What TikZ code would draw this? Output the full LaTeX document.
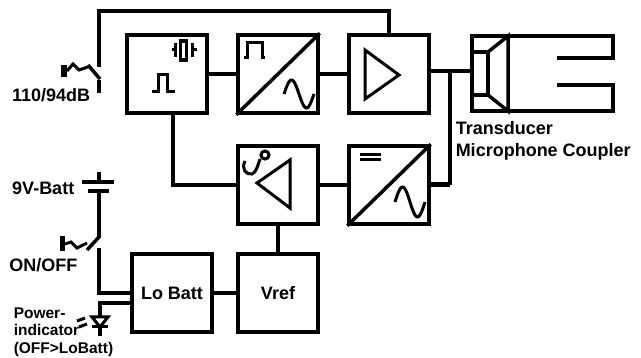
\documentclass[tikz,border=0pt]{standalone}
\usepackage{fontspec}
\setmainfont{Liberation Sans}
\usetikzlibrary{positioning, calc}

\begin{document}
\begin{tikzpicture}[
    x=1pt, y=-1pt,
    line width=3.5pt,
    block/.style={
        rectangle,
        draw,
        line width=3.5pt,
        minimum width=80pt,
        minimum height=78pt,
        align=center,
        font=\bfseries\fontsize{18}{22}\selectfont
    },
    symbol/.style={
        line width=3pt
    },
    lbl/.style={
        inner sep=0pt,
        align=left,
        font=\bfseries\fontsize{18}{22}\selectfont
    },
    smalllbl/.style={
        inner sep=0pt,
        align=left,
        font=\bfseries\fontsize{15.5}{17.5}\selectfont
    }
]

\useasboundingbox (0,0) rectangle (641,358);

% Define column and row positions (pixels, y downwards)
\def\colA{167}
\def\colB{278}
\def\colC{389}
\def\rowA{74}
\def\rowB{185}
\def\rowC{293}

% Blocks
\node[block] (osc) at (\colA,\rowA) {};
\node[block] (dac) at (\colB,\rowA) {};
\node[block] (amp) at (\colC,\rowA) {};
\node[block] (micamp) at (\colB,\rowB) {};
\node[block] (adc) at (\colC,\rowB) {};
\node[block] (lobatt) at (172,\rowC) {Lo Batt};
\node[block] (vref) at (\colB,\rowC) {Vref};

% Oscillator: crystal and pulse
\begin{scope}[shift={(osc.center)}]
    \draw[symbol] (5,-24) -- (8,-24) (8,-31) -- (8,-17) (25,-31) -- (25,-17) (25,-24) -- (30,-24);
    \draw[line width=3.5pt] (13.5,-33) rectangle (19.5,-14);
    \draw[symbol] (-15,18) -- (-9,18) -- (-9,1) -- (0,1) -- (0,18) -- (8,18);
\end{scope}

% Pulse to sine converter
\draw (dac.south west) -- (dac.north east);
\begin{scope}[shift={(dac.center)}]
    \draw[symbol] (-34,-16) -- (-31,-16) -- (-31,-31) -- (-16,-31) -- (-16,-16) -- (-13,-16);
    \draw[symbol] plot[domain=0:360, samples=37] ({6+\x/12}, {20-14*sin(\x)});
\end{scope}

% Output amplifier
\begin{scope}[shift={(amp.center)}]
    \draw[symbol] (-24,-24) -- (10,1) -- (-24,25) -- cycle;
\end{scope}

% Microphone amplifier
\begin{scope}[shift={(micamp.center)}]
    \draw[symbol] (-21,-2) -- (12,-25) -- (12,23) -- cycle;
    \draw[symbol] (-33,-24) .. controls (-37,-16) and (-32,-10) .. (-26,-11)
        .. controls (-22,-12) and (-20,-20) .. (-18,-26);
    \draw[symbol] (-13,-30) circle[radius=4];
\end{scope}

% DC to sine converter
\draw (adc.south west) -- (adc.north east);
\begin{scope}[shift={(adc.center)}]
    \draw[symbol] (-29,-30) -- (-8,-30) (-29,-25) -- (-8,-25);
    \draw[symbol] plot[domain=0:360, samples=37] ({6+\x/12}, {17-15*sin(\x)});
\end{scope}

% Transducer and coupler
\draw (557,58) -- (613,58) -- (613,36) -- (472,36) -- (472,111) -- (613,111) -- (613,85) -- (557,85);
\draw (472,52) -- (488,52) -- (488,95) -- (472,95);
\draw (488,52) -- (508,36) -- (508,111) -- (488,95);
\coordinate (spkin) at (472,71);
\coordinate (jn) at (450,71);

% Signal path
\draw (osc.east) -- (dac.west);
\draw (dac.east) -- (amp.west);
\draw ([yshift=3pt]amp.east) -- (spkin);
\draw[line width=5pt] (adc.east) -- (adc.east -| jn);
\draw (adc.east -| jn) -- (jn);
\draw (micamp.west) -| ([xshift=6pt]osc.south);
\draw (micamp.east) -- (adc.west);
\draw (micamp.south) -- (micamp.south |- vref.north);
\draw (lobatt.east) -- (lobatt.east -| vref.west);

% Level switch
\coordinate (swAtop) at (99,11);
\coordinate (swAup) at (99,67);
\draw (amp.north) -- (amp.north |- swAtop) -- (swAtop) -- (swAup);
\draw (88,65) -- (100,79);
\draw (99,80) -- (99,93);
\fill (61,65) rectangle (67,77);
\draw[symbol] (67,71) -- (73,64) -- (79,70) -- (88,67);

% Battery
\draw (99,172) -- (99,182);
\draw (82,182) -- (114,182);
\draw (88,191) -- (109,191);
\draw (99,191) -- (99,238);

% On/off switch
\coordinate (swBlow) at (99,248);
\draw (87,250) -- (99,237);
\draw (swBlow) |- (lobatt.west);
\fill (60,236) rectangle (65,251);
\draw[symbol] (65,244) -- (71,242) -- (77,248) -- (87,243);

% Power indicator LED
\coordinate (ledtop) at (100,317);
\draw ([yshift=-10pt]lobatt.west) -| (ledtop);
\draw[symbol] (92,317) -- (108,317) -- (100,327) -- cycle;
\draw[symbol] (92,327) -- (108,327);
\draw (100,327) -- (100,336);
\draw[symbol] (77,321) -- (85,318) (79,327) -- (87,324);

% Labels
\node[lbl, anchor=base east] (dblabel) at (92,102) {110/94dB};
\node[lbl, anchor=base east] (battlabel) at (76,195) {9V-Batt};
\node[lbl, anchor=base east] (onofflabel) at (79,272) {ON/OFF};
\node[smalllbl, anchor=north west] (ledlabel) at (12,306) {Power-\\indicator\\(OFF>LoBatt)};
\node[lbl, anchor=north west] (cplabel) at (454,120) {Transducer\\Microphone Coupler};

\end{tikzpicture}
\end{document}
